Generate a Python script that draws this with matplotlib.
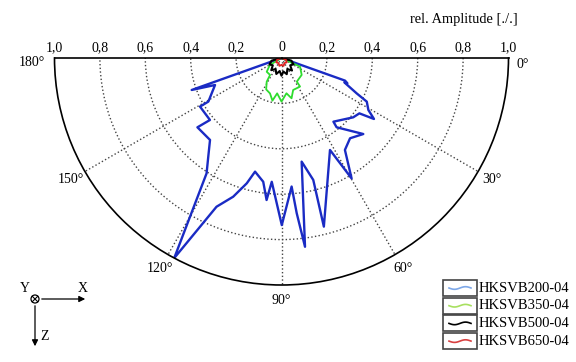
import numpy as np
import matplotlib.pyplot as plt
from matplotlib.patches import Rectangle, Circle

plt.rcParams['font.family'] = ['Liberation Serif', 'DejaVu Serif']

# angle in degrees (0° right, 90° straight down, 180° left), relative amplitude
ang_200 = [0, 19.6, 21.0, 21.2, 25.2, 27.1, 30.9, 33.4, 35.4, 39.6, 50.8, 51.5,
           42.9, 49.5, 55.4, 59.8, 62.2, 75.9, 75.4, 79.0, 82.9, 84.4, 85.5,
           89.9, 94.5, 96.0, 98.4, 103.1, 105.5, 109.2, 113.6, 118.2, 123.0,
           126.6, 131.1, 140.5, 139.1, 149.2, 149.2, 157.9, 160.4, 180]
amp_200 = [0, 0.297, 0.311, 0.297, 0.366, 0.422, 0.446, 0.488, 0.421, 0.410, 0.362, 0.390,
           0.492, 0.465, 0.492, 0.614, 0.458, 0.766, 0.555, 0.465, 0.838, 0.687, 0.568,
           0.736, 0.547, 0.629, 0.551, 0.514, 0.573, 0.647, 0.715, 1.000, 0.606,
           0.541, 0.479, 0.480, 0.417, 0.418, 0.375, 0.316, 0.420, 0]

ang_350 = [0, 25, 40, 57, 57, 70, 76, 82, 90, 97, 102, 108, 116, 122, 124, 137, 149, 180]
amp_350 = [0, 0.090, 0.116, 0.124, 0.150, 0.150, 0.183, 0.157, 0.192, 0.157, 0.192,
           0.164, 0.154, 0.123, 0.090, 0.089, 0.060, 0]

ang_500 = [0, 15, 28, 40, 50, 62, 72, 82, 90, 98, 108, 118, 130, 140, 152, 165, 180]
amp_500 = [0, 0.045, 0.060, 0.050, 0.072, 0.055, 0.075, 0.060, 0.078, 0.058, 0.074,
           0.055, 0.070, 0.050, 0.060, 0.045, 0]

ang_650 = [0, 20, 40, 60, 75, 90, 105, 120, 140, 160, 180]
amp_650 = [0, 0.020, 0.030, 0.026, 0.036, 0.030, 0.036, 0.026, 0.030, 0.020, 0]

series = ['HKSVB200-04', 'HKSVB350-04', 'HKSVB500-04', 'HKSVB650-04']
line_colors = ['#1a2bc4', '#2edc2e', '#000000', '#e02020']
legend_colors = ['#7ea8e8', '#a8e060', '#000000', '#d84040']

ring_ticks = [0.2, 0.4, 0.6, 0.8, 1.0]
ring_labels = ['0,2', '0,4', '0,6', '0,8', '1,0']
angle_ticks = [30, 60, 90, 120, 150]

W, H = 576, 362
cx, cy, R = 281.5, 58, 227  # pixel centre (from top) and radius of the half disc

fig = plt.figure(figsize=(W / 100, H / 100), dpi=100)
# a half-disc polar axes only fills half of its box, so give it a doubled box
bw, bh = 4 * R, 2 * R
ax = fig.add_axes([(cx - bw / 2) / W, (H - (cy + R / 2) - bh / 2) / H, bw / W, bh / H],
                  projection='polar')
ax.set_theta_zero_location('E')
ax.set_theta_direction(-1)
ax.set_thetamin(0)
ax.set_thetamax(180)
ax.set_rlim(0, 1)
ax.set_rticks(ring_ticks[:-1])
ax.set_yticklabels([])
ax.set_xticks(np.radians(angle_ticks))
ax.set_xticklabels([])
ax.tick_params(length=0)
ax.grid(True, color='#444444', linestyle=':', linewidth=1.0)
for s in ax.spines.values():
    s.set_color('black')
    s.set_linewidth(1.2)

data = [(ang_200, amp_200, 1.7), (ang_350, amp_350, 1.3),
        (ang_500, amp_500, 1.5), (ang_650, amp_650, 1.3)]
for (a, r, lw), col in zip(data, line_colors):
    ax.plot(np.radians(a), r, color=col, linewidth=lw)

# radius labels along the top edge
ax.annotate('0', xy=(0, 0), xytext=(0, 7.5), textcoords='offset points',
            ha='center', va='center', fontsize=10)
for v, lab in zip(ring_ticks, ring_labels):
    for th in (0, np.pi):
        ax.annotate(lab, xy=(th, v), xytext=(0, 7.5), textcoords='offset points',
                    ha='center', va='center', fontsize=10)

# angle labels
for a in angle_ticks:
    ax.text(np.radians(a), 1.07, f'{a}°', ha='center', va='center', fontsize=10)
ax.annotate('0°', xy=(0, 1), xytext=(10, -5), textcoords='offset points',
            ha='center', va='center', fontsize=10)
ax.annotate('180°', xy=(np.pi, 1), xytext=(-16, -3.5), textcoords='offset points',
            ha='center', va='center', fontsize=10)

# overlay in pixel coords for legend, caption and axis symbol
ov = fig.add_axes([0, 0, 1, 1])
ov.set_xlim(0, W)
ov.set_ylim(H, 0)
ov.axis('off')

ov.text(518, 20, 'rel. Amplitude [./.]', ha='right', va='center', fontsize=10.4)

for i, (lab, col) in enumerate(zip(series, legend_colors)):
    y = 288 + i * 17.7
    ov.add_patch(Rectangle((443, y - 8), 34, 16, fill=False, ec='#444444', lw=1.2))
    xs = np.linspace(449, 471, 30)
    ov.plot(xs, y + 1.3 * np.sin((xs - 449) / 22 * 2 * np.pi), color=col, lw=1.2)
    ov.text(479, y, lab, ha='left', va='center', fontsize=10.5)

# coordinate system symbol
ov.add_patch(Circle((35, 299), 4, fill=False, ec='k', lw=0.9))
ov.plot([32.2, 37.8], [296.2, 301.8], color='k', lw=0.8)
ov.plot([32.2, 37.8], [301.8, 296.2], color='k', lw=0.8)
ov.annotate('', xy=(88, 299), xytext=(39, 299),
            arrowprops=dict(arrowstyle='-|>', color='k', lw=0.9, mutation_scale=9))
ov.annotate('', xy=(35, 349), xytext=(35, 303),
            arrowprops=dict(arrowstyle='-|>', color='k', lw=0.9, mutation_scale=9))
ov.text(25, 289, 'Y', ha='center', va='center', fontsize=10)
ov.text(83, 288, 'X', ha='center', va='center', fontsize=10)
ov.text(45, 337, 'Z', ha='center', va='center', fontsize=10)

fig.savefig('out.png', dpi=100)
